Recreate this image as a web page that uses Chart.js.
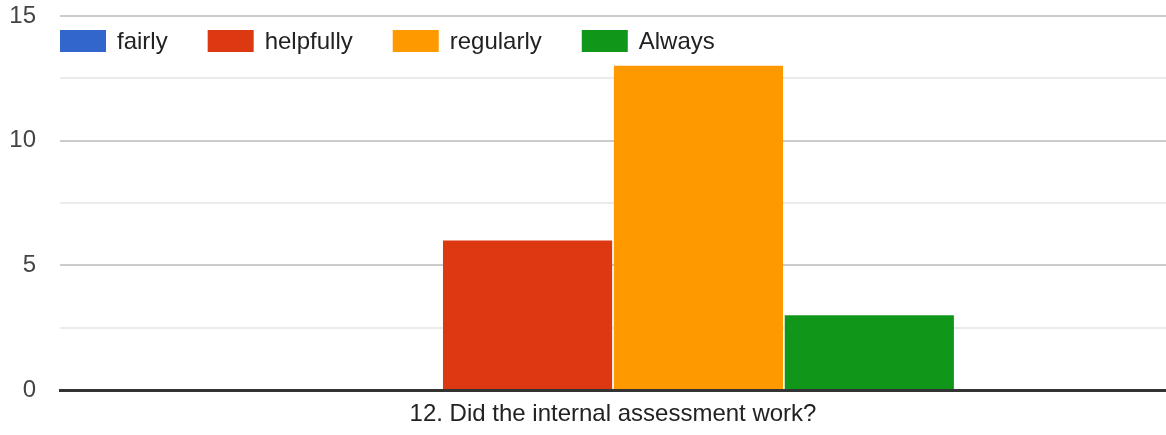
<!DOCTYPE html>
<html>
<head>
<meta charset="utf-8">
<script src="https://cdn.jsdelivr.net/npm/chart.js@4"></script>
<style>
  html, body { margin: 0; padding: 0; background: #fff; }
  #wrap { width: 1166px; height: 435px; }
</style>
</head>
<body>
<div id="wrap"><canvas id="chart" width="1166" height="435"></canvas></div>
<script>
// data
const categories = ["12. Did the internal assessment work?"];
const seriesNames = ["fairly", "helpfully", "regularly", "Always"];
const seriesValues = [[0], [6], [13], [3]];
const seriesColors = ["#3366cc", "#dc3912", "#ff9900", "#109618"];
const yTicks = [0, 5, 10, 15];

const FONT = "Arial, 'Liberation Sans', sans-serif";

// legend drawn inside the plot, top-left
const insideLegend = {
  id: "insideLegend",
  afterDraw(c) {
    const ctx = c.ctx;
    let x = c.chartArea.left;
    const y = 30;
    ctx.save();
    ctx.font = "24px " + FONT;
    ctx.textBaseline = "middle";
    c.data.datasets.forEach(ds => {
      ctx.fillStyle = ds.backgroundColor;
      ctx.fillRect(x, y, 46, 22);
      ctx.fillStyle = "#222";
      ctx.fillText(ds.label, x + 57, y + 12);
      x += 57 + ctx.measureText(ds.label).width + 40;
    });
    ctx.restore();
  }
};

const ctx = document.getElementById("chart").getContext("2d");
new Chart(ctx, {
  type: "bar",
  data: {
    labels: categories,
    datasets: seriesNames.map((name, i) => ({
      label: name,
      data: seriesValues[i],
      backgroundColor: seriesColors[i],
      categoryPercentage: 0.618,
      barPercentage: 0.99
    }))
  },
  options: {
    responsive: false,
    animation: false,
    layout: { padding: { top: 16, right: 0, left: 0, bottom: 0 } },
    plugins: {
      legend: { display: false },
      tooltip: { enabled: false }
    },
    scales: {
      x: {
        z: 1,
        grid: { display: false, drawTicks: false },
        border: { display: true, color: "#333", width: 3 },
        ticks: { color: "#222", font: { family: FONT, size: 24 }, padding: 10 },
        afterFit: s => { s.height = 45; }
      },
      y: {
        min: 0,
        max: 15,
        border: { display: false },
        grid: {
          drawTicks: false,
          lineWidth: 2,
          color: c => {
            const v = c.tick.value;
            if (v === 0) return "rgba(0,0,0,0)";
            return yTicks.includes(v) ? "#cccccc" : "#ebebeb";
          }
        },
        ticks: {
          stepSize: 2.5,
          padding: 24,
          color: "#444",
          font: { family: FONT, size: 24 },
          callback: v => yTicks.includes(v) ? String(v) : ""
        },
        afterFit: s => {
          s.width = 60;
          s.paddingTop = 0;
          s.paddingBottom = 0;
        }
      }
    }
  },
  plugins: [insideLegend]
});
</script>
</body>
</html>
